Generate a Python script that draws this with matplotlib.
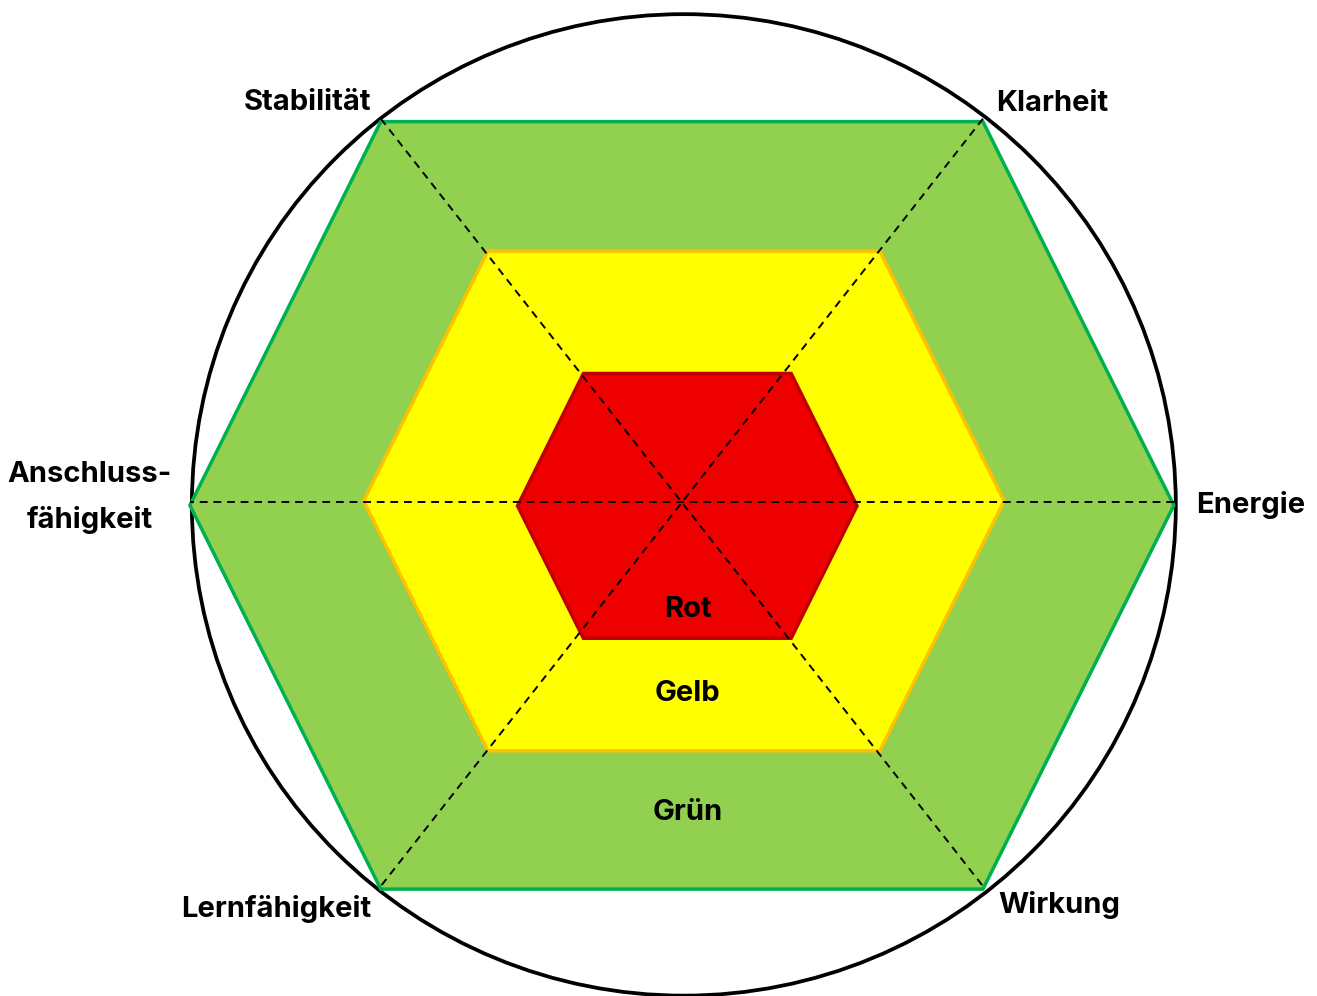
import numpy as np
import matplotlib
matplotlib.use("Agg")
import matplotlib.pyplot as plt
from matplotlib.patches import Polygon, Ellipse

# axes of the hexagon, counter-clockwise starting at the right
categories = ["Energie", "Klarheit", "Stabilität", "Anschluss-\nfähigkeit", "Lernfähigkeit", "Wirkung"]
# unit hexagon shape (x, y) for each axis
shape_x = [1.0, 0.612, -0.612, -1.0, -0.612, 0.612]
shape_y = [0.0, 0.78, 0.78, 0.0, -0.78, -0.78]

# zones from outside to inside
zone_names = ["Grün", "Gelb", "Rot"]
zone_levels = [1.0, 0.651, 0.345]
zone_cx = [-0.004, 0.0, 0.007]
zone_cy = [-0.009, 0.0, -0.010]
zone_fill = ["#92D050", "#FFFF00", "#EE0000"]
zone_edge = ["#00B050", "#FFC000", "#C00000"]
zone_label_y = [-0.634, -0.392, -0.2215]

plt.rcParams['font.family'] = ['Inter', 'DejaVu Sans']

fig = plt.figure(figsize=(13.17, 9.96), dpi=100)
ax = fig.add_axes([0, 0, 1, 1])
ax.set_xlim(-1.390, 1.287)
ax.set_ylim(-1.006, 1.018)
ax.set_aspect("equal")
ax.axis("off")

sx = np.array(shape_x)
sy = np.array(shape_y)

# outer circle
ax.add_patch(Ellipse((0, -0.008), 2.0, 1.995, fill=False, ec="black", lw=2.7, zorder=1))

for lvl, cx, cy, fc, ec in zip(zone_levels, zone_cx, zone_cy, zone_fill, zone_edge):
    pts = np.column_stack([cx + sx * lvl, cy + sy * lvl])
    ax.add_patch(Polygon(pts, closed=True, fc=fc, ec=ec, lw=2.5, joinstyle="miter", zorder=2))

# dashed diagonals between opposite vertices of the outer zone
ox = zone_cx[0] + sx
oy = zone_cy[0] + sy
for i in range(3):
    ax.plot([ox[i], ox[i + 3]], [oy[i] + 0.006, oy[i + 3] + 0.006], color="black", lw=1.4,
            dashes=(4, 3), zorder=3)

for name, yl in zip(zone_names, zone_label_y):
    ax.text(0.008, yl, name, ha="center", va="center", fontsize=21, fontweight="bold", zorder=4)

# category labels at the outer vertices
offsets = [(22, 0), (13, 5), (-9, 6), (-18, 8), (-9, -6), (15, -2)]
aligns = [("left", "center"), ("left", "bottom"), ("right", "bottom"),
          ("right", "center"), ("right", "top"), ("left", "top")]
for i, cat in enumerate(categories):
    ax.annotate(cat, (ox[i], oy[i]), xytext=offsets[i], textcoords="offset pixels",
                ha=aligns[i][0], va=aligns[i][1], multialignment="center",
                fontsize=21, fontweight="bold", linespacing=1.85, zorder=4)

fig.savefig("out.png", dpi=100)
